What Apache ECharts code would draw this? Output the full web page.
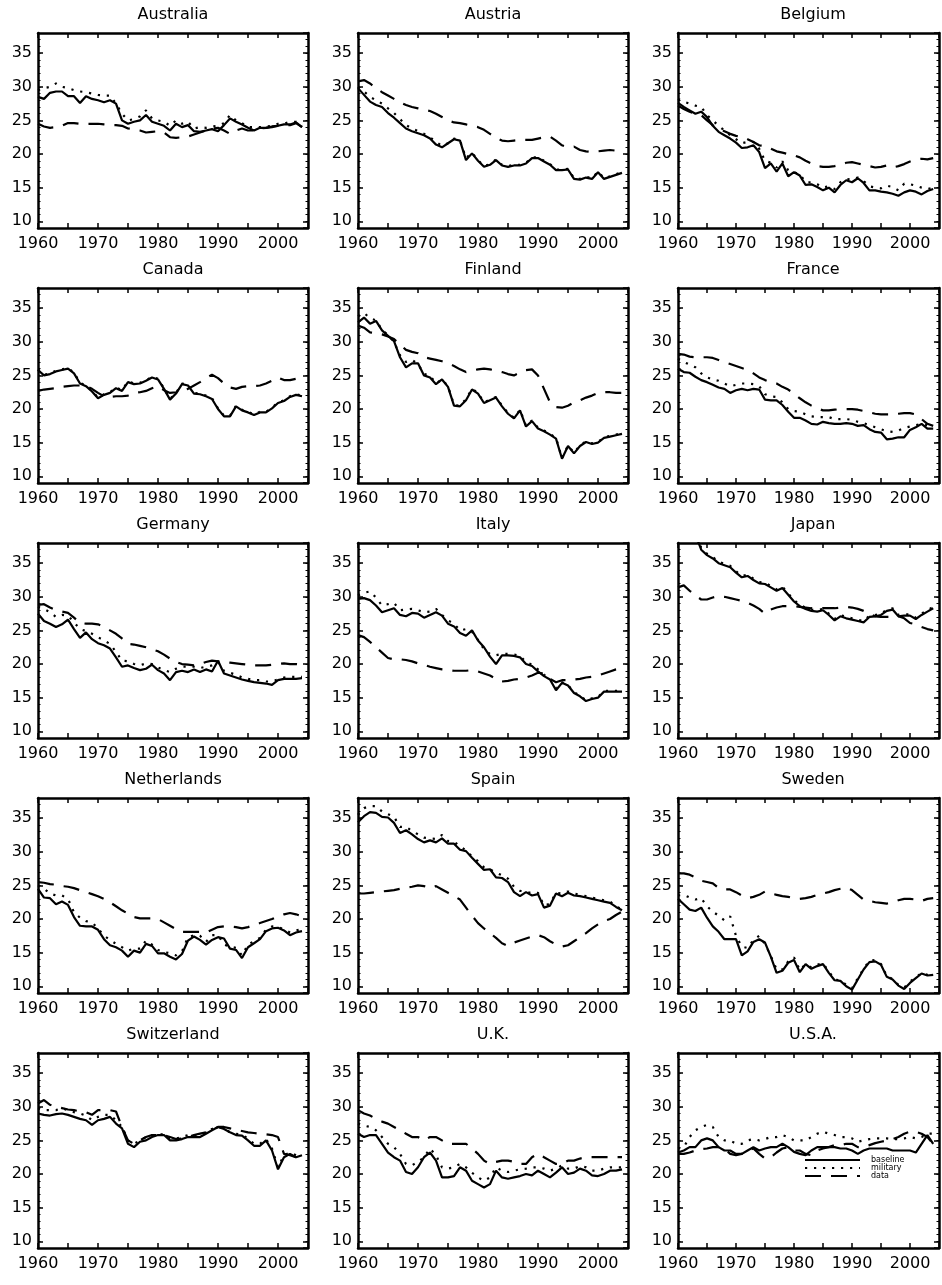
<!DOCTYPE html>
<html><head><meta charset="utf-8">
<script src="https://cdn.jsdelivr.net/npm/echarts@6/dist/echarts.min.js"></script>
<style>html,body{margin:0;padding:0;background:#fff}#c{width:942px;height:1285px}</style>
</head><body><div id="c"></div><script>
const years = [1960,1961,1962,1963,1964,1965,1966,1967,1968,1969,1970,1971,1972,1973,1974,1975,1976,1977,1978,1979,1980,1981,1982,1983,1984,1985,1986,1987,1988,1989,1990,1991,1992,1993,1994,1995,1996,1997,1998,1999,2000,2001,2002,2003,2004];
const xTickLabels = [1960,1970,1980,1990,2000];
const yTickLabels = [10,15,20,25,30,35];
const countries = ['Australia','Austria','Belgium','Canada','Finland','France','Germany','Italy','Japan','Netherlands','Spain','Sweden','Switzerland','U.K.','U.S.A.'];
const seriesNames = ['baseline','military','data'];

const australia_baseline = [28.5,28.2,29.1,29.3,29.3,28.6,28.6,27.6,28.6,28.2,28.0,27.7,28.0,27.5,25.0,24.5,24.8,25.0,25.8,24.8,24.5,24.2,23.5,24.5,24.0,24.3,23.4,23.3,23.5,23.7,23.4,24.3,25.3,24.8,24.4,23.9,23.5,23.9,23.9,24.0,24.2,24.4,24.4,24.7,24.0];
const australia_military = [29.5,29.8,30.0,30.5,30.0,29.8,29.5,29.3,29.2,29.0,28.8,28.7,28.7,27.5,26.0,25.0,25.2,25.6,26.5,25.3,25.0,24.8,24.2,25.0,24.5,24.8,23.8,24.0,23.9,24.1,24.2,24.6,25.8,25.0,24.6,24.0,24.0,24.0,24.1,24.2,24.5,24.5,24.8,24.8,24.2];
const australia_data = [24.5,24.1,23.9,24.0,24.2,24.6,24.6,24.5,24.5,24.5,24.5,24.4,24.3,24.3,24.2,23.8,23.7,23.5,23.2,23.3,23.4,23.2,22.5,22.4,22.5,22.6,22.9,23.2,23.5,23.8,23.9,23.5,23.0,23.5,23.8,23.5,23.5,23.8,23.9,24.1,24.2,24.3,24.3,24.6,24.0];

const austria_baseline = [29.8,28.8,27.8,27.3,27.0,26.1,25.4,24.6,23.8,23.4,23.1,22.8,22.3,21.4,21.0,21.6,22.2,22.0,19.1,20.1,19.0,18.1,18.4,19.1,18.3,18.1,18.3,18.3,18.6,19.4,19.4,18.9,18.4,17.6,17.6,17.7,16.3,16.2,16.5,16.3,17.3,16.3,16.6,16.9,17.2];
const austria_military = [30.0,29.3,28.5,28.0,27.5,26.8,26.1,25.2,24.3,23.8,23.4,23.0,22.5,21.8,21.2,21.6,22.3,22.0,19.4,20.2,19.1,18.2,18.5,19.2,18.4,18.2,18.4,18.4,18.7,19.5,19.5,19.0,18.5,17.7,17.7,17.8,16.4,16.3,16.6,16.4,17.4,16.4,16.7,17.0,17.3];
const austria_data = [30.8,31.0,30.5,29.8,29.2,28.7,28.2,27.7,27.3,27.0,26.8,26.6,26.4,26.0,25.5,25.0,24.7,24.6,24.4,24.2,24.0,23.6,23.0,22.4,22.0,21.9,22.0,22.1,22.1,22.1,22.3,22.5,22.6,22.0,21.3,21.0,21.1,20.6,20.4,20.3,20.4,20.5,20.6,20.5,20.6];

const belgium_baseline = [27.6,27.0,26.5,26.0,26.3,25.5,24.2,23.3,22.8,22.3,21.7,20.9,21.0,21.3,20.3,17.9,18.6,17.4,18.6,16.7,17.3,16.8,15.4,15.5,15.1,14.6,15.0,14.3,15.4,16.1,15.8,16.4,15.7,14.6,14.6,14.4,14.3,14.1,13.8,14.3,14.6,14.4,14.0,14.5,14.8];
const belgium_military = [28.2,27.8,27.5,27.2,27.0,25.8,25.0,24.2,23.5,22.8,22.2,21.6,21.8,21.8,20.8,19.0,18.7,18.0,18.9,17.6,17.3,17.0,15.8,15.8,15.5,15.0,15.2,14.8,15.8,16.3,16.2,16.5,16.0,15.2,15.0,14.9,15.3,15.1,14.6,15.6,15.5,15.3,15.0,14.8,15.0];
const belgium_data = [27.2,26.7,26.3,26.0,25.8,25.0,24.3,23.8,23.4,23.0,22.7,22.6,22.2,21.8,21.3,21.2,20.8,20.4,20.2,20.0,19.8,19.5,19.0,18.6,18.2,18.1,18.1,18.2,18.4,18.7,18.8,18.6,18.4,18.2,18.0,18.1,18.3,18.0,18.2,18.5,18.9,19.2,19.3,19.2,19.4];

const canada_baseline = [25.8,25.0,25.2,25.6,25.8,26.0,25.3,23.8,23.4,22.6,21.6,22.1,22.4,23.1,22.7,24.0,23.7,23.8,24.2,24.7,24.4,23.0,21.4,22.3,23.7,23.5,22.3,22.2,21.9,21.5,20.0,18.9,18.9,20.4,19.8,19.5,19.1,19.5,19.5,20.1,20.9,21.2,21.8,22.1,21.9];
const canada_military = [25.9,25.1,25.3,25.7,25.9,26.1,25.4,23.9,23.5,22.7,21.7,22.2,22.5,23.2,22.8,24.1,23.8,23.9,24.3,24.8,24.5,23.1,21.5,22.4,23.8,23.6,22.4,22.3,22.0,21.6,20.1,19.0,19.0,20.5,19.9,19.6,19.2,19.6,19.6,20.2,21.0,21.3,21.9,22.2,22.0];
const canada_data = [22.7,22.9,23.0,23.1,23.3,23.4,23.5,23.5,23.4,23.0,22.4,21.9,21.8,21.9,21.9,22.0,22.4,22.5,22.7,23.1,23.4,22.8,22.4,22.5,22.7,23.0,23.5,24.0,24.6,25.1,24.6,23.8,23.2,23.0,23.3,23.4,23.4,23.5,23.8,24.2,24.7,24.3,24.3,24.5,24.9];

const finland_baseline = [32.9,33.6,32.7,33.1,31.7,30.9,30.1,27.7,26.2,26.8,26.8,25.0,24.7,23.7,24.4,23.3,20.5,20.4,21.3,22.9,22.3,20.9,21.3,21.7,20.4,19.3,18.6,19.8,17.4,18.2,17.1,16.7,16.2,15.6,12.6,14.5,13.4,14.5,15.1,14.8,15.0,15.7,15.9,16.1,16.3];
const finland_military = [33.8,34.3,33.5,33.2,31.8,31.0,30.0,28.0,27.0,27.3,26.7,25.2,25.0,23.8,24.4,23.4,20.6,20.5,21.5,23.0,22.4,21.0,21.4,21.8,20.5,19.4,18.7,19.9,17.5,18.3,17.2,16.8,16.3,15.7,12.7,14.6,13.5,14.6,15.2,14.9,15.1,15.8,16.0,16.2,16.4];
const finland_data = [32.4,32.1,31.4,31.3,31.1,30.8,30.4,29.6,28.8,28.5,28.3,27.7,27.5,27.3,27.1,26.8,26.4,25.9,25.5,25.7,25.9,26.0,25.9,25.7,25.5,25.2,25.0,25.4,25.8,25.9,25.0,23.0,21.0,20.3,20.2,20.5,21.0,21.3,21.7,22.0,22.4,22.5,22.5,22.4,22.4];

const france_baseline = [26.0,25.5,25.4,24.8,24.3,24.0,23.6,23.2,23.0,22.4,22.8,23.0,22.8,23.0,22.9,21.4,21.3,21.3,20.6,19.6,18.7,18.7,18.3,17.8,17.7,18.1,17.9,17.8,17.8,17.9,17.8,17.5,17.6,17.0,16.6,16.5,15.5,15.6,15.8,15.8,16.9,17.3,17.8,17.1,17.1];
const france_military = [27.5,27.0,26.6,26.2,25.3,24.7,24.4,24.2,23.8,23.4,23.6,23.8,23.8,23.7,23.4,22.2,21.9,21.8,21.0,20.0,19.7,19.6,19.2,18.9,18.8,18.8,18.8,18.5,18.5,18.5,18.4,18.1,17.9,17.6,17.3,17.0,16.7,16.6,16.8,17.2,17.4,17.6,17.8,17.6,17.5];
const france_data = [28.2,28.1,27.8,27.7,27.7,27.7,27.6,27.3,27.0,26.7,26.4,26.1,25.8,25.3,24.7,24.3,24.0,23.8,23.3,22.9,22.3,21.6,21.0,20.5,20.1,19.8,19.8,19.9,20.0,20.0,20.0,19.9,19.7,19.5,19.3,19.2,19.2,19.2,19.3,19.4,19.4,19.2,18.5,17.8,17.5];

const germany_baseline = [27.5,26.4,26.0,25.5,25.9,26.6,25.2,23.9,24.7,23.7,23.1,22.8,22.3,21.0,19.6,19.8,19.4,19.1,19.3,19.9,19.1,18.6,17.6,18.8,19.0,18.8,19.2,18.8,19.2,18.9,20.5,18.6,18.3,18.0,17.7,17.5,17.3,17.2,17.1,16.9,17.6,17.8,17.8,17.8,17.9];
const germany_military = [28.5,28.2,27.7,27.0,27.3,27.2,26.2,25.2,24.9,24.5,24.0,23.5,23.0,21.8,20.5,20.4,20.0,19.8,20.1,20.0,19.5,19.1,18.8,19.3,19.6,19.6,19.6,19.4,19.6,19.8,20.3,19.0,18.7,18.4,18.0,17.8,17.6,17.6,17.4,17.4,17.7,18.0,18.1,18.1,18.1];
const germany_data = [28.8,28.9,28.4,28.0,27.8,27.6,26.9,26.1,26.0,26.0,25.9,25.5,25.0,24.5,23.8,23.0,22.9,22.7,22.5,22.2,21.9,21.4,20.8,20.3,20.0,19.9,19.8,20.0,20.3,20.5,20.4,20.3,20.2,20.1,20.0,19.9,19.8,19.8,19.8,19.9,20.0,20.1,20.0,20.0,19.9];

const italy_baseline = [29.7,29.8,29.5,28.7,27.7,28.0,28.3,27.3,27.1,27.6,27.5,26.9,27.3,27.7,27.2,26.0,25.6,24.6,24.2,25.0,23.5,22.5,21.1,20.0,21.3,21.3,21.2,21.0,20.0,19.7,18.9,18.2,17.7,16.1,17.2,16.8,15.7,15.2,14.5,14.8,15.0,15.9,15.9,15.9,15.9];
const italy_military = [30.2,30.6,30.8,29.9,28.7,28.9,29.1,28.0,28.1,28.2,28.0,27.7,27.8,28.2,27.3,26.5,26.0,25.0,25.2,24.8,23.6,22.2,21.5,21.3,21.5,21.5,21.4,21.2,20.3,19.9,19.2,18.4,17.8,16.4,17.3,16.9,15.8,15.3,14.6,14.9,15.1,16.0,16.0,16.0,16.0];
const italy_data = [24.3,24.0,23.3,22.5,21.7,20.9,20.7,20.7,20.6,20.4,20.1,19.9,19.6,19.4,19.2,19.1,19.0,19.0,19.0,19.1,18.9,18.6,18.3,17.8,17.4,17.5,17.7,17.8,18.0,18.3,18.7,18.6,17.8,17.3,17.6,17.6,17.7,17.8,18.0,18.1,18.3,18.6,18.9,19.2,19.4];

const japan_baseline = [43.0,42.0,40.8,39.3,37.0,36.2,35.7,35.0,34.7,34.4,33.6,32.9,33.1,32.5,32.0,31.9,31.4,30.9,31.3,30.3,29.3,28.6,28.2,27.9,27.8,28.0,27.3,26.5,27.1,26.8,26.6,26.4,26.2,27.0,27.1,27.3,27.9,28.1,27.1,27.2,27.2,26.7,27.3,27.8,28.3];
const japan_military = [43.3,42.3,41.1,39.6,37.3,36.4,35.9,35.2,34.9,34.6,33.8,33.1,33.3,32.7,32.2,32.1,31.6,31.1,31.5,30.5,29.5,28.8,28.4,28.1,28.0,28.2,27.5,26.7,27.3,27.0,26.8,26.6,26.4,27.2,27.3,27.5,28.1,28.3,27.3,27.4,27.4,26.9,27.5,28.0,28.5];
const japan_data = [31.4,31.7,30.9,30.2,29.6,29.6,29.9,30.1,30.0,29.8,29.6,29.4,29.1,28.7,28.2,27.5,28.1,28.4,28.6,28.6,28.6,28.5,28.4,28.3,28.3,28.3,28.3,28.3,28.4,28.5,28.4,28.2,27.9,27.5,27.1,27.0,27.0,27.0,27.1,26.8,26.1,25.9,25.5,25.2,25.0];

const netherlands_baseline = [24.5,23.2,23.1,22.2,22.6,22.1,20.3,19.0,18.9,18.9,18.4,17.0,16.1,15.8,15.3,14.4,15.3,15.0,16.3,16.0,14.9,14.9,14.4,14.0,14.8,16.8,17.4,16.9,16.2,16.9,17.3,17.1,15.6,15.4,14.2,15.8,16.4,17.0,18.2,18.6,18.7,18.3,17.6,18.0,18.2];
const netherlands_military = [25.0,24.5,23.8,23.5,23.5,23.0,21.0,20.2,19.7,19.5,18.6,17.5,16.9,16.3,15.8,15.3,15.6,15.6,16.8,16.2,15.4,15.1,14.9,14.6,15.2,17.3,17.6,17.5,16.6,17.6,17.6,16.2,15.9,15.7,14.6,16.2,16.7,17.2,18.4,18.9,18.8,18.5,18.0,18.3,18.5];
const netherlands_data = [25.5,25.4,25.2,25.1,24.9,24.8,24.6,24.3,24.0,23.7,23.4,23.0,22.5,21.9,21.3,20.8,20.3,20.1,20.1,20.1,20.0,19.5,19.0,18.5,18.1,18.1,18.1,18.1,18.0,18.4,18.8,18.9,18.9,18.8,18.6,18.8,19.1,19.4,19.7,20.0,20.4,20.7,20.9,20.7,20.4];

const spain_baseline = [34.4,35.3,35.9,35.8,35.2,35.1,34.3,32.8,33.2,32.6,31.9,31.4,31.7,31.4,32.0,31.2,31.2,30.3,30.1,29.1,28.2,27.3,27.4,26.2,26.1,25.5,24.0,23.4,24.0,23.5,23.7,21.7,22.0,23.8,23.4,23.9,23.5,23.4,23.2,23.0,22.8,22.6,22.4,21.8,21.3];
const spain_military = [35.5,36.5,36.8,36.8,36.0,35.6,35.2,33.7,33.7,33.1,32.6,32.1,32.0,31.9,32.5,31.6,31.5,30.8,30.2,29.3,28.6,27.7,27.4,26.9,26.5,26.0,24.8,24.2,24.1,23.8,23.9,22.0,22.3,23.9,23.8,24.1,23.8,23.6,23.4,23.2,23.0,22.8,22.6,21.9,21.4];
const spain_data = [23.8,23.8,23.9,24.0,24.1,24.2,24.3,24.5,24.7,24.8,25.0,24.9,24.6,24.9,24.4,23.9,23.4,22.9,21.7,20.5,19.4,18.6,17.9,17.2,16.4,16.0,16.5,16.8,17.1,17.4,17.6,17.3,16.7,16.2,15.9,16.1,16.7,17.3,17.9,18.6,19.2,19.7,20.0,20.6,21.1];

const sweden_baseline = [23.0,22.2,21.4,21.2,21.7,20.2,18.9,18.1,17.0,17.0,17.0,14.6,15.2,16.6,17.0,16.5,14.4,12.0,12.3,13.5,13.9,12.1,13.3,12.6,13.0,13.3,12.0,10.9,10.8,10.0,9.5,11.0,12.5,13.6,13.7,13.2,11.4,11.0,10.1,9.6,10.5,11.2,11.9,11.6,11.7];
const sweden_military = [23.5,23.6,23.2,22.9,23.1,21.9,21.1,20.5,19.8,20.4,17.5,15.9,15.7,16.9,17.5,16.3,14.5,12.5,12.5,13.7,14.3,12.4,13.3,12.8,13.2,13.4,12.2,11.0,10.9,10.2,9.7,11.2,12.6,13.8,13.9,13.3,11.5,11.1,10.2,9.8,10.7,11.3,12.0,11.7,11.8];
const sweden_data = [26.8,26.8,26.6,26.2,25.7,25.5,25.3,24.6,24.4,24.4,24.0,23.5,23.1,23.3,23.6,24.1,23.8,23.6,23.4,23.3,23.1,23.0,23.1,23.3,23.6,23.8,24.0,24.3,24.5,24.7,24.3,23.6,22.9,22.7,22.5,22.4,22.3,22.5,22.8,23.0,23.0,22.9,22.7,23.0,23.1];

const switzerland_baseline = [29.0,28.8,28.7,28.9,29.0,28.8,28.5,28.2,28.0,27.3,28.0,28.2,28.5,27.5,26.8,24.5,24.0,24.8,25.0,25.5,25.8,25.8,25.0,25.0,25.2,25.5,25.5,25.5,26.0,26.5,27.0,26.7,26.2,25.8,25.7,25.0,24.2,24.2,25.0,23.5,20.7,22.5,23.0,22.5,22.8];
const switzerland_military = [29.8,29.5,29.5,29.5,29.8,29.5,29.2,29.0,28.7,28.0,28.5,28.8,28.8,28.0,27.0,25.0,24.5,25.0,25.5,25.8,25.8,26.0,25.3,25.3,25.5,25.8,25.8,25.8,26.2,26.7,27.0,26.8,26.2,26.0,25.8,25.3,24.5,24.5,25.2,23.8,21.0,22.8,23.2,22.8,23.0];
const switzerland_data = [30.5,31.0,30.3,30.0,29.8,29.6,29.5,29.3,29.2,28.8,29.5,29.5,29.5,29.3,27.0,25.0,24.5,25.0,25.5,25.8,25.8,25.8,25.5,25.2,25.3,25.5,25.8,26.0,26.2,26.5,27.0,27.0,26.8,26.5,26.4,26.2,26.1,26.0,25.9,25.8,25.5,23.0,22.8,22.5,22.8];

const uk_baseline = [26.0,25.5,25.8,25.8,24.5,23.2,22.5,22.0,20.3,20.0,21.0,22.5,23.2,22.0,19.5,19.5,19.7,21.0,20.5,19.0,18.5,18.0,18.5,20.5,19.5,19.3,19.5,19.7,20.0,19.8,20.5,20.0,19.5,20.2,21.0,20.0,20.2,20.8,20.5,19.8,19.7,20.0,20.5,20.5,20.7];
const uk_military = [27.5,27.2,27.0,26.5,25.5,24.5,24.0,23.0,21.5,21.3,21.8,22.5,23.8,22.8,21.0,20.8,21.0,21.5,21.0,20.2,19.5,19.0,19.5,21.0,20.5,20.3,20.5,20.7,20.8,21.0,21.0,20.8,20.5,20.8,21.3,20.8,20.8,21.2,21.0,20.5,20.5,20.8,21.0,21.0,21.0];
const uk_data = [29.5,29.0,28.7,28.2,27.8,27.5,27.0,26.5,26.0,25.5,25.5,25.0,25.5,25.5,25.0,24.5,24.5,24.5,24.5,23.8,23.0,22.0,21.5,21.8,22.0,22.0,21.8,21.5,21.5,22.5,23.0,22.5,22.0,21.5,21.5,22.0,22.0,22.3,22.5,22.5,22.5,22.5,22.5,22.5,22.5];

const usa_baseline = [23.2,23.5,24.0,24.0,25.0,25.3,25.0,24.0,23.5,23.5,23.0,23.0,23.5,24.0,23.5,23.8,24.0,24.0,24.5,24.0,23.3,23.0,22.8,23.5,24.0,24.0,24.0,24.0,23.8,23.8,23.5,23.0,23.5,23.8,23.8,23.8,23.8,23.5,23.5,23.5,23.5,23.2,24.5,25.8,24.5];
const usa_military = [23.8,24.0,25.5,26.5,27.0,27.3,27.0,25.5,25.0,25.0,24.5,24.5,25.0,25.2,25.0,25.2,25.5,25.5,25.8,25.5,25.0,25.0,25.0,25.5,26.0,26.3,26.0,25.8,25.5,25.5,25.3,24.8,25.0,25.2,25.3,25.3,25.3,25.2,25.2,25.3,25.5,25.3,25.5,26.0,26.0];
const usa_data = [23.0,23.0,23.2,23.5,23.7,23.8,24.0,24.0,23.8,23.0,22.8,23.0,23.5,23.8,23.0,22.3,22.5,23.2,23.8,24.0,23.5,23.5,23.0,22.8,23.5,23.8,24.0,24.3,24.3,24.5,24.5,24.0,24.0,24.3,24.6,24.8,25.0,25.2,25.5,26.0,26.3,26.3,26.0,25.5,24.5];

const panelSeries = [
  [australia_baseline, australia_military, australia_data],
  [austria_baseline, austria_military, austria_data],
  [belgium_baseline, belgium_military, belgium_data],
  [canada_baseline, canada_military, canada_data],
  [finland_baseline, finland_military, finland_data],
  [france_baseline, france_military, france_data],
  [germany_baseline, germany_military, germany_data],
  [italy_baseline, italy_military, italy_data],
  [japan_baseline, japan_military, japan_data],
  [netherlands_baseline, netherlands_military, netherlands_data],
  [spain_baseline, spain_military, spain_data],
  [sweden_baseline, sweden_military, sweden_data],
  [switzerland_baseline, switzerland_military, switzerland_data],
  [uk_baseline, uk_military, uk_data],
  [usa_baseline, usa_military, usa_data]
];

const FONT = '"DejaVu Sans", sans-serif';
const colLeft = [38, 358, 678], rowTop = [33, 288, 543, 798, 1053];
const PW = 270, PH = 195;
const lineStyles = [
  {color:'#000', width:2.2, type:'solid'},
  {color:'#000', width:2.2, type:[2.2, 6.8], cap:'butt'},
  {color:'#000', width:2.2, type:[16, 10], cap:'butt'}
];
const grid = [], xAxis = [], yAxis = [], series = [], graphic = [];
const axisLineStyle = {show:true, onZero:false, lineStyle:{color:'#000', width:2.5}};
countries.forEach((name, i) => {
  const r = Math.floor(i/3), c = i%3;
  grid.push({left: colLeft[c], top: rowTop[r], width: PW, height: PH, containLabel:false});
  const xBase = {gridIndex:i, type:'value', min:1960, max:2005, interval:5, axisLine:axisLineStyle,
    axisTick:{show:true, inside:true, length:5, lineStyle:{color:'#000', width:1.5}}, splitLine:{show:false}};
  xAxis.push(Object.assign({}, xBase, {position:'bottom',
    axisLabel:{show:true, margin:8, color:'#000', fontSize:16, fontFamily:FONT,
      formatter: v => xTickLabels.includes(v) ? String(v) : ''}}));
  xAxis.push(Object.assign({}, xBase, {position:'top', axisLabel:{show:false}}));
  const yMajor = {gridIndex:i, type:'value', min:9, max:38, minInterval:5, maxInterval:5, axisLine:axisLineStyle,
    axisTick:{show:true, inside:true, length:5, lineStyle:{color:'#000', width:1.5}}, splitLine:{show:false}};
  const yMinor = {gridIndex:i, type:'value', min:9, max:38, interval:1, axisLine:{show:false, onZero:false},
    axisTick:{show:true, inside:true, length:2.5, lineStyle:{color:'#000', width:1}}, axisLabel:{show:false}, splitLine:{show:false}};
  yAxis.push(Object.assign({}, yMajor, {position:'left',
    axisLabel:{show:true, margin:6, color:'#000', fontSize:16, fontFamily:FONT, showMinLabel:false, showMaxLabel:false,
      formatter: v => yTickLabels.includes(v) ? String(v) : ''}}));
  yAxis.push(Object.assign({}, yMinor, {position:'left'}));
  yAxis.push(Object.assign({}, yMajor, {position:'right', axisLabel:{show:false}}));
  yAxis.push(Object.assign({}, yMinor, {position:'right'}));
  panelSeries[i].forEach((arr, s) => {
    series.push({name: seriesNames[s], type:'line', xAxisIndex: 2*i, yAxisIndex: 4*i,
      data: years.map((y, k) => [y, arr[k]]), symbol:'none', showSymbol:false, clip:true,
      itemStyle:{color:'#000'},
      lineStyle: lineStyles[s], silent:true, z: 3 - s});
  });
  graphic.push({type:'text', x: colLeft[c] + PW/2, y: rowTop[r] - 18,
    style:{text:name, fill:'#000', fontSize:16, fontFamily:FONT, align:'center', verticalAlign:'middle'}});
});

const chart = echarts.init(document.getElementById('c'), null, {renderer:'canvas'});
chart.setOption({
  animation:false,
  backgroundColor:'#fff',
  grid, xAxis, yAxis, series, graphic,
  legend:{data: seriesNames, left: 804, top: 1156, orient:'vertical', itemWidth:55, itemHeight:8, itemGap:0, padding:0,
    selectedMode:false, itemStyle:{color:'rgba(0,0,0,0)', borderWidth:0, opacity:0},
    textStyle:{fontSize:8, color:'#000', fontFamily:FONT, padding:[0,0,0,6]}}
});
</script></body></html>
